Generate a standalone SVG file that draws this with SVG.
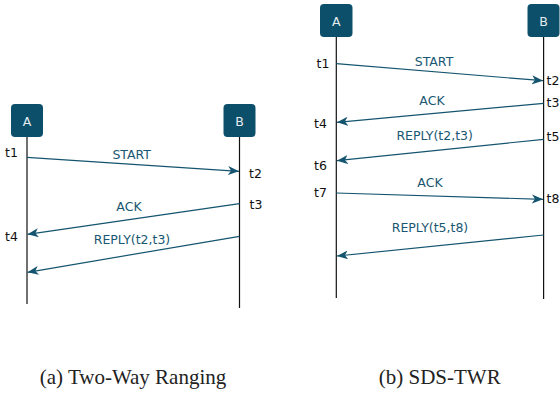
<svg xmlns="http://www.w3.org/2000/svg" width="560" height="394" viewBox="0 0 560 394">
<style>
.box{fill:#0c4f6b}
.bt{font-family:"DejaVu Sans",sans-serif;font-size:12.5px;fill:#e4ecf0;text-anchor:middle}
.life{stroke:#111;stroke-width:1.2;fill:none}
.msg{stroke:#14546f;stroke-width:1.2;fill:none;marker-end:url(#ah)}
.lbl{font-family:"DejaVu Sans",sans-serif;font-size:12.5px;fill:#1a5772;text-anchor:middle}
.t{font-family:"DejaVu Sans",sans-serif;font-size:12.5px;fill:#111}
.cap{font-family:"Liberation Serif",serif;font-size:21px;fill:#222;text-anchor:middle}
</style>
<defs>
<marker id="ah" markerUnits="userSpaceOnUse" markerWidth="12" markerHeight="10" refX="11" refY="4.5" orient="auto">
<path d="M0,0 L11,4.5 L0,9 L3,4.5 z" fill="#14546f"/>
</marker>
</defs>
<g id="left-A"><rect class="box" x="11" y="104" width="32" height="33" rx="4"/><text class="bt" x="27" y="125.5">A</text></g>
<g id="left-B"><rect class="box" x="223.5" y="104" width="32" height="33" rx="4"/><text class="bt" x="239.5" y="125.5">B</text></g>
<g id="right-A"><rect class="box" x="320" y="4" width="32.5" height="33" rx="4"/><text class="bt" x="336.3" y="25.5">A</text></g>
<g id="right-B"><rect class="box" x="527.5" y="4" width="32" height="33" rx="4"/><text class="bt" x="543.6" y="25.5">B</text></g>
<g id="lifelines">
<line class="life" x1="27" y1="137" x2="27" y2="304"/>
<line class="life" x1="239.5" y1="137" x2="239.5" y2="308"/>
<line class="life" x1="336.3" y1="37" x2="336.3" y2="298"/>
<line class="life" x1="543.6" y1="37" x2="543.6" y2="299"/>
</g>
<g id="connectors">
<line class="msg" x1="27" y1="157.3" x2="239" y2="171.3"/>
<line class="msg" x1="239.5" y1="203.7" x2="27.5" y2="234.3"/>
<line class="msg" x1="239.5" y1="236.3" x2="27.5" y2="272.3"/>
<line class="msg" x1="336.3" y1="63.7" x2="543" y2="80.7"/>
<line class="msg" x1="543.6" y1="103.3" x2="337" y2="122.3"/>
<line class="msg" x1="543.6" y1="139.3" x2="337" y2="160.7"/>
<line class="msg" x1="336.3" y1="193" x2="543" y2="199.3"/>
<line class="msg" x1="543.6" y1="235" x2="337" y2="256"/>
</g>
<g id="labels">
<text class="lbl" x="131.7" y="159">START</text>
<text class="lbl" x="129" y="210.5">ACK</text>
<text class="lbl" x="132" y="244">REPLY(t2,t3)</text>
<text class="lbl" x="434" y="65.5">START</text>
<text class="lbl" x="432" y="104.5">ACK</text>
<text class="lbl" x="434.7" y="140">REPLY(t2,t3)</text>
<text class="lbl" x="430" y="186.7">ACK</text>
<text class="lbl" x="430" y="232">REPLY(t5,t8)</text>
</g>
<g id="times">
<text class="t" x="5" y="157.3">t1</text>
<text class="t" x="249" y="178">t2</text>
<text class="t" x="249.5" y="209.3">t3</text>
<text class="t" x="5" y="241">t4</text>
<text class="t" x="316.5" y="68.3">t1</text>
<text class="t" x="546.5" y="85">t2</text>
<text class="t" x="546.5" y="107">t3</text>
<text class="t" x="314" y="127.7">t4</text>
<text class="t" x="546.5" y="141">t5</text>
<text class="t" x="314" y="169.7">t6</text>
<text class="t" x="314" y="197.3">t7</text>
<text class="t" x="546.5" y="203.3">t8</text>
</g>
<g id="captions">
<text class="cap" x="133" y="384">(a) Two-Way Ranging</text>
<text class="cap" x="439.7" y="384">(b) SDS-TWR</text>
</g>
</svg>
